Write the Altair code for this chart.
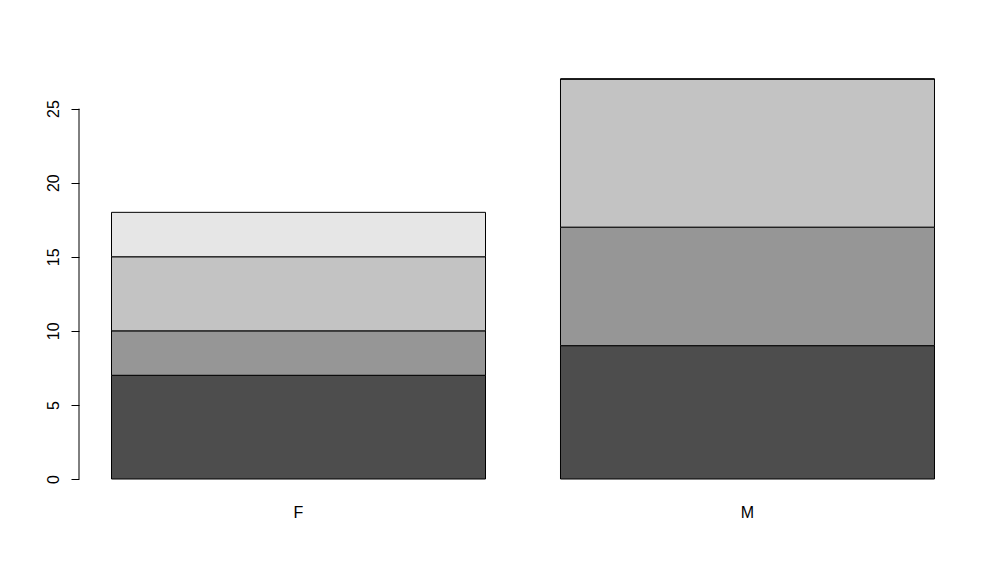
import altair as alt
import pandas as pd

categories = ["F", "M"]
levels = ["A", "B", "C", "D"]
values_F = [7, 3, 5, 3]
values_M = [9, 8, 10, 0]
colors = ["#4D4D4D", "#969696", "#C3C3C3", "#E6E6E6"]
y_ticks = [0, 5, 10, 15, 20, 25]

rows = []
for cat, vals in zip(categories, [values_F, values_M]):
    for i, (lev, v) in enumerate(zip(levels, vals)):
        rows.append({"group": cat, "level": lev, "order": i, "value": v})
df = pd.DataFrame(rows)

bars = alt.Chart(df).mark_bar(stroke="black", strokeWidth=1, strokeOpacity=1, opacity=1).encode(
    x=alt.X("group:N",
            scale=alt.Scale(paddingInner=0.167, paddingOuter=0.0724),
            axis=alt.Axis(title=None, labelAngle=0, domain=False, ticks=False,
                          labelPadding=9, labelFontSize=16, labelFont="Liberation Sans",
                          labelColor="black")),
    y=alt.Y("value:Q", stack="zero",
            scale=alt.Scale(domain=[-1.08, 28.08], nice=False, zero=False),
            axis=alt.Axis(title=None, values=y_ticks, domain=False, grid=False,
                          tickSize=8, tickColor="black", labelAngle=-90,
                          labelAlign="center", labelBaseline="bottom",
                          labelPadding=10, labelFontSize=16, labelFont="Liberation Sans",
                          labelColor="black", labelFlush=False)),
    color=alt.Color("level:N", scale=alt.Scale(domain=levels, range=colors), legend=None),
    order=alt.Order("order:Q"),
)

axis_line = alt.Chart(pd.DataFrame({"y0": [y_ticks[0]], "y1": [y_ticks[-1]]})).mark_rule(
    color="black", strokeWidth=1
).encode(x=alt.value(0), y="y0:Q", y2="y1:Q")

chart = alt.layer(bars, axis_line).properties(
    width=888, height=432,
    padding={"left": 71, "top": 55, "right": 20, "bottom": 70},
    autosize=alt.AutoSizeParams(type="none"),
    background="white",
).configure_view(stroke=None)

chart.save("out.html", embed_options={"renderer": "svg", "actions": False})
